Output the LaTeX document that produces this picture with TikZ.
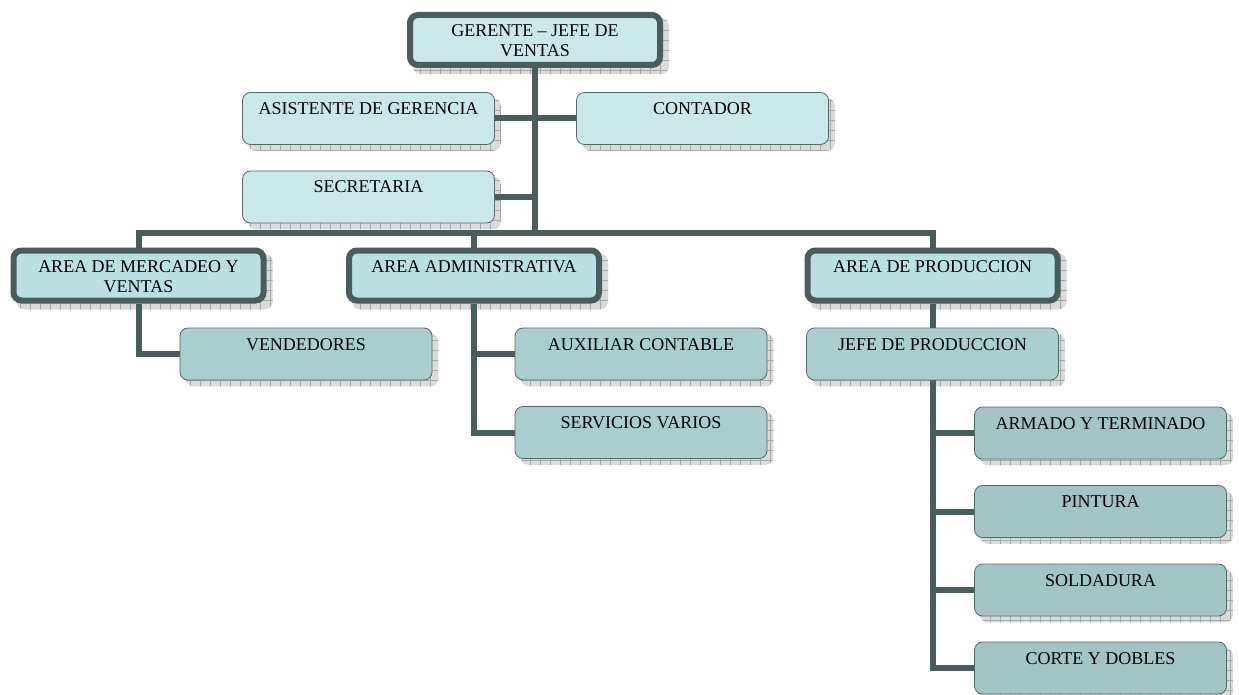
\documentclass[tikz,border=0pt]{standalone}
\usepackage{fontspec}
\setmainfont{Liberation Serif}
\usetikzlibrary{calc}

\definecolor{linkcol}{HTML}{4B5C5C}
\definecolor{boxline}{HTML}{56696A}
\definecolor{fillA}{HTML}{CAE7EA}
\definecolor{fillB}{HTML}{BBE0E3}
\definecolor{fillC}{HTML}{AACDCE}
\definecolor{fillD}{HTML}{A2C4C5}
\definecolor{shadowfill}{HTML}{DADADA}
\definecolor{shadowgrid}{HTML}{A8A8A8}

\pgfdeclarelayer{shadowlayer}
\pgfdeclarelayer{linklayer}
\pgfsetlayers{shadowlayer,linklayer,main}

% box text: fixed-size parbox, text set near the top edge
\newcommand{\orgtext}[3]{\parbox[c][#2][t]{#1}{\centering\rule{0pt}{22pt}#3}}

% gridded drop shadow below a named box
\newcommand{\shadowof}[1]{%
  \begin{scope}
    \path[clip, rounded corners=8pt] ($(#1.north west)+(6,6)$) rectangle ($(#1.south east)+(6,6)$);
    \fill[shadowfill] ($(#1.north west)+(0,0)$) rectangle ($(#1.south east)+(12,12)$);
    \draw[shadowgrid, line width=0.7pt, step=10pt] ($(#1.north west)+(0,0)$) grid ($(#1.south east)+(12,12)$);
  \end{scope}}

\tikzset{
  box/.style={draw=boxline, line width=0.8pt, rounded corners=8pt, inner sep=0pt,
              font=\fontsize{18}{20}\selectfont},
  headbox/.style={box, draw=linkcol, line width=6pt},
  link/.style={draw=linkcol, line width=6pt},
}

\begin{document}
\begin{tikzpicture}[x=1pt,y=-1pt]
\useasboundingbox (0,0) rectangle (1239,695);

% top management
\node[headbox, fill=fillA] (ger) at (535,40) {\orgtext{250pt}{50pt}{GERENTE – JEFE DE\\VENTAS}};
\node[box, fill=fillA] (asis) at (368.5,118.5) {\orgtext{252pt}{52pt}{ASISTENTE DE GERENCIA}};
\node[box, fill=fillA] (cont) at (702.5,118.5) {\orgtext{252pt}{52pt}{CONTADOR}};
\node[box, fill=fillA] (secr) at (368.5,197) {\orgtext{252pt}{52pt}{SECRETARIA}};

% areas
\node[headbox, fill=fillB] (mer) at (138.5,275.5) {\orgtext{250pt}{50pt}{AREA DE MERCADEO Y\\VENTAS}};
\node[headbox, fill=fillB] (adm) at (474,275.5) {\orgtext{250pt}{50pt}{AREA ADMINISTRATIVA}};
\node[headbox, fill=fillB] (prod) at (932.5,275.5) {\orgtext{250pt}{50pt}{AREA DE PRODUCCION}};

% staff
\node[box, fill=fillC] (vend) at (306,354) {\orgtext{252pt}{52pt}{VENDEDORES}};
\node[box, fill=fillC] (aux) at (641,354) {\orgtext{252pt}{52pt}{AUXILIAR CONTABLE}};
\node[box, fill=fillC] (serv) at (641,432.5) {\orgtext{252pt}{52pt}{SERVICIOS VARIOS}};
\node[box, fill=fillC] (jefe) at (932.5,354) {\orgtext{252pt}{52pt}{JEFE DE PRODUCCION}};

% production sections
\node[box, fill=fillD] (arm) at (1100.5,433) {\orgtext{252pt}{52pt}{ARMADO Y TERMINADO}};
\node[box, fill=fillD] (pint) at (1100.5,511.5) {\orgtext{252pt}{52pt}{PINTURA}};
\node[box, fill=fillD] (sold) at (1100.5,590) {\orgtext{252pt}{52pt}{SOLDADURA}};
\node[box, fill=fillD] (cort) at (1100.5,668) {\orgtext{252pt}{52pt}{CORTE Y DOBLES}};

\coordinate (busy) at (535,233);

\begin{pgfonlayer}{shadowlayer}
  \foreach \n in {ger,asis,cont,secr,mer,adm,prod,vend,aux,serv,jefe,arm,pint,sold,cort}
    {\shadowof{\n}}
\end{pgfonlayer}

\begin{pgfonlayer}{linklayer}
  \draw[link] (ger) -- (ger |- busy);
  \draw[link] (asis) -- (cont);
  \draw[link] (secr) -- (secr -| ger);
  \draw[link] (mer) -- (mer |- busy) -- (prod |- busy) -- (prod);
  \draw[link] (adm |- busy) -- (adm);
  \draw[link] (mer) |- (vend);
  \draw[link] (adm) |- (aux);
  \draw[link] (adm) |- (serv);
  \draw[link] (prod) -- (jefe);
  \draw[link] (jefe) |- (arm);
  \draw[link] (jefe) |- (pint);
  \draw[link] (jefe) |- (sold);
  \draw[link] (jefe) |- (cort);
\end{pgfonlayer}
\end{tikzpicture}
\end{document}
